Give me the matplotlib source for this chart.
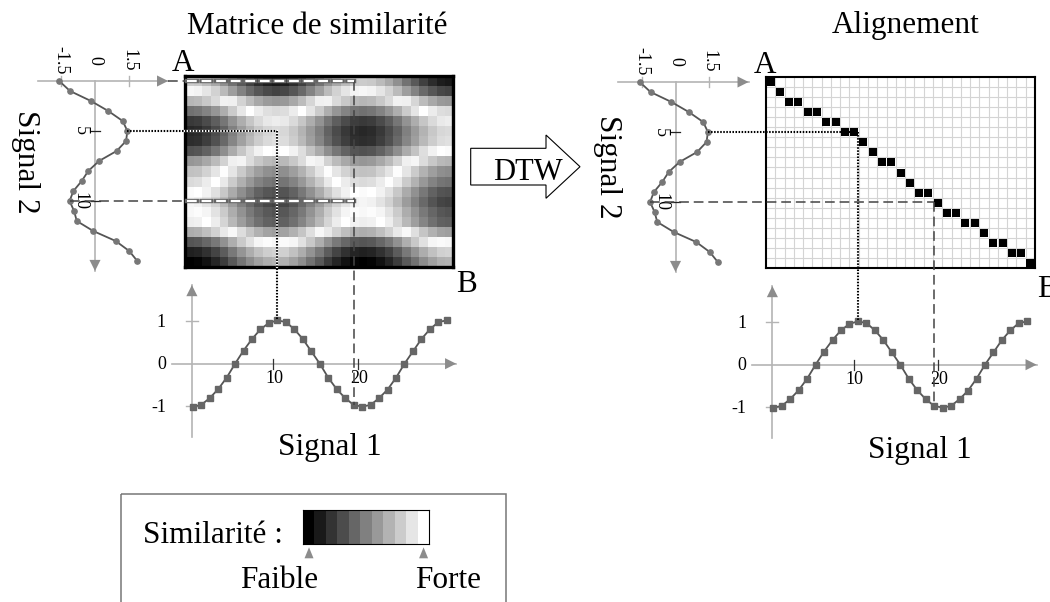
import numpy as np
import matplotlib.pyplot as plt
from matplotlib.patches import Polygon, Rectangle

plt.rcParams['font.family'] = ['Liberation Serif', 'DejaVu Serif']
plt.rcParams['lines.scale_dashes'] = False

W, H = 1050, 602

# signal 1 : 31 echantillons (axe horizontal)
t1 = np.arange(31) + 0.5
s1 = [-1.01, -0.97, -0.81, -0.60, -0.33, 0.00, 0.31, 0.58, 0.81, 0.96, 1.02,
      0.98, 0.81, 0.58, 0.29, 0.00, -0.33, -0.60, -0.81, -0.97, -1.01,
      -0.97, -0.81, -0.61, -0.33, 0.00, 0.29, 0.58, 0.81, 0.98, 1.02]
s1_ticks = [10, 20]
s1_yticks = [1, 0, -1]

# signal 2 : 19 echantillons (axe vertical)
n2 = np.arange(19)
s2 = [-1.59, -1.11, -0.18, 0.59, 1.23, 1.44, 1.38, 0.96, 0.18, -0.30,
      -0.59, -0.96, -1.13, -0.93, -0.81, -0.08, 0.92, 1.52, 1.88]
s2_vticks = [-1.5, 0, 1.5]
s2_vlabels = ['-1.5', '0', '1.5']
s2_iticks = [5, 12]
s2_ilabels = ['5', '10']

# chemin DTW : ligne du signal 2 pour chaque colonne de la grille
path_rows = [0, 1, 2, 2, 3, 3, 4, 4, 5, 5, 6, 7, 8, 8, 9, 10, 11, 11, 12,
             13, 13, 14, 14, 15, 16, 16, 17, 17, 18]

# echelle de similarite (legende)
levels = [0.0, 0.1, 0.2, 0.3, 0.4, 0.5, 0.6, 0.7, 0.8, 0.9, 1.0]

# points relies par les pointilles / tirets
i_peak1, i_min1 = 10, 19
i_peak2, i_min2 = 5, 12

dist = np.abs(np.subtract.outer(s2, s1))

AXC = '#b4b4b4'
HEADC = '#8c8c8c'
LINEC = '#555555'
DASHC = '#444444'

fig = plt.figure(figsize=(W / 100, H / 100), dpi=100)


def px_axes(x0, y0, x1, y1, ox=None, oy=None, sx=None, sy=None):
    ax = fig.add_axes([x0 / W, 1 - y1 / H, (x1 - x0) / W, (y1 - y0) / H])
    if ox is not None:
        ax.set_xlim((x0 - ox) / sx, (x1 - ox) / sx)
        ax.set_ylim((oy - y1) / sy, (oy - y0) / sy)
    return ax


def axis_arrow(ax, p0, p1):
    ax.plot([p0[0], p1[0]], [p0[1], p1[1]], color=AXC, lw=1.2, clip_on=False)
    ax.annotate('', xy=p1, xytext=p0,
                arrowprops=dict(arrowstyle='-|>', color=HEADC, lw=0,
                                mutation_scale=20, shrinkA=0, shrinkB=0))


ov = fig.add_axes([0, 0, 1, 1])
ov.set_xlim(0, W)
ov.set_ylim(H, 0)
ov.set_axis_off()
ov.set_zorder(10)


def to_px(ax, x, y):
    X, Y = ax.transData.transform((x, y))
    return X, H - Y


def draw_signals(dx, dy):
    # signal 2, vertical
    a2 = px_axes(30 + dx, 40 + dy, 175 + dx, 280 + dy,
                 ox=95 + dx, oy=81 + dy, sx=22.5, sy=-10)
    a2.set_axis_off()
    axis_arrow(a2, (-2.55, 0), (3.25, 0))
    axis_arrow(a2, (0, 0), (0, 19.0))
    for v in s2_vticks:
        if v != 0:
            a2.plot([v, v], [-0.5, 0.5], color=AXC, lw=1)
    for i in s2_iticks:
        a2.plot([-0.2, 0.2], [i, i], color='#222222', lw=0.9)
    a2.plot(s2, n2, '-o', color=LINEC, lw=1.3, ms=3.8, mfc='#777777',
            mec='#777777')
    for v, lab in zip(s2_vticks, s2_vlabels):
        x, y = to_px(a2, v, 0)
        ov.text(x, y - 21, lab, rotation=-90, ha='center', va='center',
                fontsize=13)
    for i, lab in zip(s2_iticks, s2_ilabels):
        x, y = to_px(a2, 0, i)
        ov.text(x - 15, y, lab, rotation=-90, ha='center', va='center',
                fontsize=13)

    # signal 1, horizontal
    a1 = px_axes(150 + dx, 280 + dy, 470 + dx, 445 + dy,
                 ox=188.5 + dx, oy=363.7 + dy, sx=8.47, sy=42.5)
    a1.set_axis_off()
    axis_arrow(a1, (-1.98, 0), (31.6, 0))
    axis_arrow(a1, (0.4, -1.72), (0.4, 1.85))
    for v in (1, -1):
        a1.plot([-0.3, 1.1], [v, v], color=AXC, lw=1)
    for t in s1_ticks:
        a1.plot([t, t], [-0.12, 0.12], color='#333333', lw=0.9)
    a1.plot(t1, s1, '-s', color=LINEC, lw=1.3, ms=4.2, mfc='#666666',
            mec='#666666')
    for v in s1_yticks:
        x, y = to_px(a1, 0.4, v)
        ov.text(x - 26, y + 1, str(v), ha='right', va='center', fontsize=13)
    for t in s1_ticks:
        x, y = to_px(a1, t, 0)
        ov.text(x + 1, y + 15, str(t), ha='center', va='center', fontsize=13)
    return a1, a2


def seg(p, q, **kw):
    ov.plot([p[0], q[0]], [p[1], q[1]], **kw)


DOT = dict(color='black', lw=1.5, linestyle=(0, (1.1, 1.1)), zorder=4)
DASH = dict(color=DASHC, lw=1.1, linestyle=(0, (7, 3.5)), zorder=4)

# ---------------- panneau gauche : matrice de similarite ----------------
a1L, a2L = draw_signals(0, 0)
am = px_axes(185, 76, 453, 267)
am.imshow(dist, cmap='gray_r', vmin=0, vmax=2.9, aspect='auto',
          interpolation='nearest', extent=(0, len(s1), len(s2), 0))
am.set_xticks([])
am.set_yticks([])
for sp in am.spines.values():
    sp.set_linewidth(2.4)

pk2 = to_px(a2L, s2[i_peak2], n2[i_peak2])
pk1 = to_px(a1L, t1[i_peak1], s1[i_peak1])
mn2 = to_px(a2L, s2[i_min2], n2[i_min2])
mn1 = to_px(a1L, t1[i_min1], s1[i_min1])
top0 = to_px(a2L, 3.25, 0)
mleft, mtop = to_px(am, 0, 0)
mright, mbot = to_px(am, len(s1), len(s2))

# pointilles : pic du signal 2 -> pic du signal 1
c1 = (pk1[0], pk2[1])
seg((mleft, pk2[1]), c1, color='white', lw=1.6, zorder=3)
seg(c1, (pk1[0], mbot), color='white', lw=1.6, zorder=3)
seg(pk2, c1, **DOT)
seg(c1, pk1, **DOT)

# tirets : creux du signal 2 -> creux du signal 1
c2 = (mn1[0], mn2[1])
seg(mn2, (mleft, mn2[1]), **DASH)
seg(top0, (mleft, top0[1]), **DASH)
for y in (mn2[1], top0[1]):
    seg((mleft + 2, y), (c2[0], y), color='#666666', lw=3.2,
        linestyle=(0, (7, 3.5)), dash_capstyle='projecting', zorder=4)
    seg((mleft + 2, y), (c2[0], y), color='white', lw=1.6,
        linestyle=(0, (7, 3.5)), zorder=5)
seg((c2[0], top0[1]), mn1, **DASH)

# ---------------- panneau droit : alignement ----------------
DX, DY = 580.5, 1
a1R, a2R = draw_signals(DX, DY)
aa = px_axes(766, 77, 1035, 268)
ncol, nrow = len(path_rows), len(s2)
aa.set_xlim(0, ncol)
aa.set_ylim(nrow, 0)
aa.vlines(np.arange(1, ncol), 0, nrow, color='#d4d4d4', lw=0.8)
aa.hlines(np.arange(1, nrow), 0, ncol, color='#d4d4d4', lw=0.8)
aa.scatter(np.arange(ncol) + 0.5, np.array(path_rows) + 0.5, marker='s',
           s=34, color='black', linewidths=0, zorder=3)
aa.set_xticks([])
aa.set_yticks([])
for sp in aa.spines.values():
    sp.set_linewidth(1.5)

pk2 = to_px(a2R, s2[i_peak2], n2[i_peak2])
pk1 = to_px(a1R, t1[i_peak1], s1[i_peak1])
mn2 = to_px(a2R, s2[i_min2], n2[i_min2])
mn1 = to_px(a1R, t1[i_min1], s1[i_min1])
c1 = (pk1[0], pk2[1])
c2 = (mn1[0], mn2[1])
seg(pk2, c1, **DOT)
seg(c1, pk1, **DOT)
seg(mn2, c2, **DASH)
seg(c2, mn1, **DASH)

# ---------------- textes ----------------
BIG = 22.5
ov.text(317.5, 33.5, 'Matrice de similarité', ha='center', va='baseline',
        fontsize=BIG)
ov.text(906, 33.5, 'Alignement', ha='center', va='baseline', fontsize=BIG)
ov.text(182.5, 71, 'A', ha='center', va='baseline', fontsize=BIG)
ov.text(765, 73.3, 'A', ha='center', va='baseline', fontsize=BIG)
ov.text(466.7, 291.7, 'B', ha='center', va='baseline', fontsize=BIG)
ov.text(1047, 296.7, 'B', ha='center', va='baseline', fontsize=BIG)
ov.text(25, 161.7, 'Signal 2', rotation=-90, ha='center', va='center',
        fontsize=BIG)
ov.text(607.5, 166.7, 'Signal 2', rotation=-90, ha='center', va='center',
        fontsize=BIG)
ov.text(330, 455, 'Signal 1', ha='center', va='baseline', fontsize=BIG)
ov.text(920, 458.3, 'Signal 1', ha='center', va='baseline', fontsize=BIG)

# fleche DTW
ov.add_patch(Polygon([(470.7, 148.3), (546, 148.3), (546, 135), (580, 166.7),
                      (546, 198.3), (546, 185), (470.7, 185)],
                     closed=True, facecolor='white', edgecolor='black', lw=0.8))
ov.text(527.5, 180, 'DTW', ha='center', va='baseline', fontsize=22)

# ---------------- legende ----------------
ov.add_patch(Rectangle((121, 494), 385, 120, facecolor='none',
                       edgecolor='#777777', lw=1.1))
ov.text(143, 543.3, 'Similarité :', ha='left', va='baseline', fontsize=BIG)
acb = px_axes(303.3, 510, 429.3, 544.3)
acb.imshow([levels], cmap='gray', vmin=0, vmax=1, aspect='auto',
           interpolation='nearest', extent=(0, len(levels), 1, 0))
acb.set_xticks([])
acb.set_yticks([])
for sp in acb.spines.values():
    sp.set_linewidth(0.8)
for j in (0, len(levels) - 1):
    x, y = to_px(acb, j + 0.5, 1)
    ov.add_patch(Polygon([(x - 4.5, y + 14), (x + 4.5, y + 14), (x, y + 3)],
                         closed=True, facecolor='#8c8c8c', edgecolor='none'))
ov.text(279, 588.3, 'Faible', ha='center', va='baseline', fontsize=BIG)
ov.text(448.5, 588.3, 'Forte', ha='center', va='baseline', fontsize=BIG)

fig.savefig('out.png', dpi=100)
